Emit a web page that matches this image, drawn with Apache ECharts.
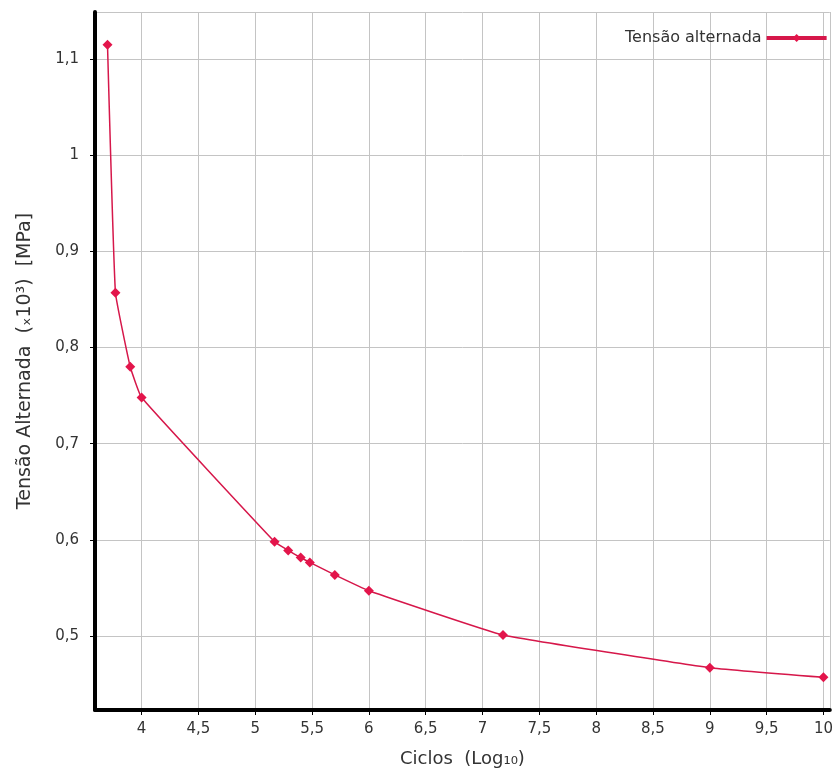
<!DOCTYPE html>
<html>
<head>
<meta charset="utf-8">
<script src="https://cdn.jsdelivr.net/npm/echarts@6/dist/echarts.min.js"></script>
<style>
  html, body { margin: 0; padding: 0; background: #fff; }
  #chart { width: 836px; height: 774px; }
</style>
</head>
<body>
<div id="chart"></div>
<script>
  // ciclos (log10) e tensão alternada (x10^3 MPa)
  let ciclos = [3.7, 3.77, 3.9, 4.0, 5.17, 5.29, 5.4, 5.48, 5.7, 6.0, 7.18, 9.0, 10.0]
  let tensao = [1.115, 0.857, 0.78, 0.748, 0.598, 0.589, 0.5815, 0.5765, 0.5635, 0.547, 0.501, 0.467, 0.457]
  let serieNome = 'Tensão alternada'

  let myChart = echarts.init(document.getElementById('chart'))
  let pontos = ciclos.map((c, i) => [c, tensao[i]])
  let virgula = v => String(Math.round(v * 100) / 100).replace('.', ',')

  let option = {
    backgroundColor: '#fff',
    animation: false,
    textStyle: { fontFamily: 'DejaVu Sans' },
    grid: { left: 95, right: 0, top: 12, bottom: 64 },
    legend: {
      data: [serieNome],
      left: 620,
      top: 25,
      align: 'right',
      itemWidth: 60,
      itemHeight: 10,
      lineStyle: { width: 4 },
      textStyle: { fontSize: 16, color: '#333' }
    },
    xAxis: {
      type: 'value',
      min: 3.59,
      max: 10.056,
      splitNumber: 13,
      name: 'Ciclos  (Log₁₀)',
      nameLocation: 'middle',
      nameGap: 40,
      nameTextStyle: { fontSize: 18, color: '#333' },
      axisLine: { lineStyle: { color: '#000', width: 4 } },
      axisTick: { show: true, length: 5, lineStyle: { color: '#000', width: 1 } },
      axisLabel: { color: '#333', fontSize: 15, margin: 12, showMinLabel: false, showMaxLabel: false, formatter: virgula },
      splitLine: { show: true, lineStyle: { color: '#c4c4c4', width: 1 } }
    },
    yAxis: {
      type: 'value',
      min: 0.423,
      max: 1.149,
      splitNumber: 7,
      name: 'Tensão Alternada  (ₓ10³)  [MPa]',
      nameLocation: 'middle',
      nameGap: 60,
      nameTextStyle: { fontSize: 19, color: '#333' },
      axisLine: { show: true, lineStyle: { color: '#000', width: 4 } },
      axisTick: { show: true, length: 5, lineStyle: { color: '#000', width: 1 } },
      axisLabel: { color: '#333', fontSize: 15, margin: 16, showMinLabel: false, showMaxLabel: false, formatter: virgula },
      splitLine: { show: true, lineStyle: { color: '#c4c4c4', width: 1 } }
    },
    series: [
      {
        name: serieNome,
        type: 'line',
        data: pontos,
        smooth: 0.1,
        symbol: 'diamond',
        symbolSize: 10,
        itemStyle: { color: '#e3154b' },
        lineStyle: { color: '#d6174a', width: 1.5 }
      }
    ]
  }
  myChart.setOption(option)
</script>
</body>
</html>
